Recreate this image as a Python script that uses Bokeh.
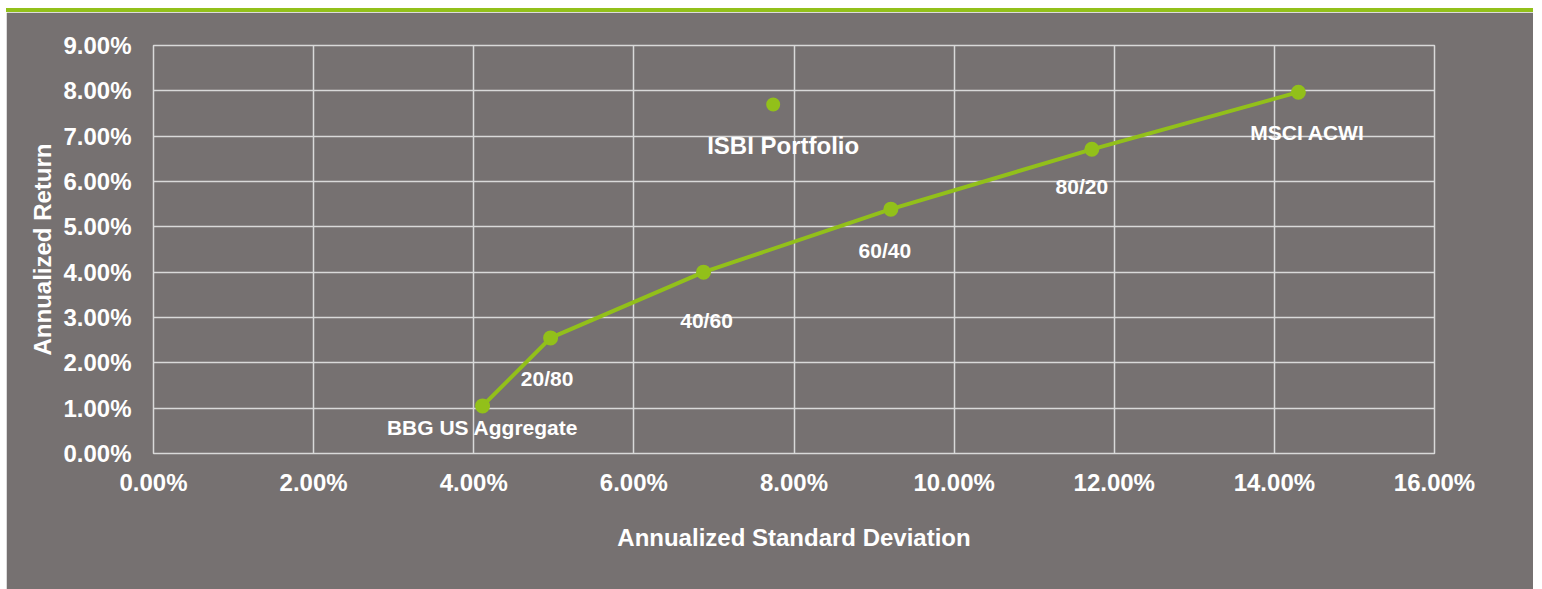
from bokeh.plotting import figure
from bokeh.models import Div, FixedTicker, PrintfTickFormatter, ColumnDataSource, Range1d
from bokeh.layouts import column
from bokeh.core.properties import value
from bokeh.embed import file_html
from bokeh.resources import INLINE

# ---- data ----
names = ["BBG US Aggregate", "20/80", "40/60", "60/40", "80/20", "MSCI ACWI"]
std_dev = [4.11, 4.96, 6.87, 9.21, 11.72, 14.30]
ann_return = [1.05, 2.55, 4.00, 5.39, 6.71, 7.97]
isbi_name = ["ISBI Portfolio"]
isbi_std = [7.74]
isbi_return = [7.70]
x_ticks = [0, 2, 4, 6, 8, 10, 12, 14, 16]
y_ticks = [0, 1, 2, 3, 4, 5, 6, 7, 8, 9]

# ---- styles ----
GREEN = "#92c01a"
BG = "#767171"
GRID = "#d9d9d9"
FONT = "Liberation Sans"
label_dx = [0, -3.5, 3, -6, -10, 9]
label_dy = [22, 41, 48, 41, 37, 40]

stripe = Div(width=1527, height=4, margin=0, styles={"background-color": GREEN})

p = figure(width=1527, height=577, output_backend="svg", toolbar_location=None,
           x_range=Range1d(0, 16), y_range=Range1d(0, 9),
           min_border_left=147, min_border_right=99, min_border_top=33, min_border_bottom=136,
           background_fill_color=BG, border_fill_color=BG, outline_line_color=GRID,
           outline_line_width=1.5, margin=0)

p.xgrid.ticker = FixedTicker(ticks=x_ticks)
p.ygrid.ticker = FixedTicker(ticks=y_ticks)
for g in (p.xgrid, p.ygrid):
    g.grid_line_color = GRID
    g.grid_line_width = 1.5

p.xaxis.ticker = FixedTicker(ticks=x_ticks)
p.yaxis.ticker = FixedTicker(ticks=y_ticks)
for ax in (p.xaxis, p.yaxis):
    ax.formatter = PrintfTickFormatter(format="%.2f%%")
    ax.axis_line_color = None
    ax.major_tick_line_color = None
    ax.minor_tick_line_color = None
    ax.major_label_text_font = FONT
    ax.major_label_text_font_style = "bold"
    ax.major_label_text_font_size = "24px"
    ax.major_label_text_color = "white"
    ax.axis_label_text_font = FONT
    ax.axis_label_text_font_style = "bold"
    ax.axis_label_text_font_size = "24px"
    ax.axis_label_text_color = "white"

p.xaxis.axis_label = "Annualized Standard Deviation"
p.yaxis.axis_label = "Annualized Return"
p.xaxis.major_label_standoff = 9
p.xaxis.axis_label_standoff = 25
p.yaxis.major_label_standoff = 16
p.yaxis.axis_label_standoff = 4

src = ColumnDataSource(dict(x=std_dev, y=ann_return, name=names, dx=label_dx, dy=label_dy))
p.line("x", "y", source=src, line_color=GREEN, line_width=4)
p.scatter("x", "y", source=src, size=15, fill_color=GREEN, line_color=None)
p.text("x", "y", text="name", source=src, x_offset="dx", y_offset="dy",
       text_align="center", text_baseline="middle", text_color="white",
       text_font=value(FONT), text_font_style="bold", text_font_size="21px")

isrc = ColumnDataSource(dict(x=isbi_std, y=isbi_return, name=isbi_name))
p.scatter("x", "y", source=isrc, size=14, fill_color=GREEN, line_color=None)
p.text("x", "y", text="name", source=isrc, x_offset=10, y_offset=41,
       text_align="center", text_baseline="middle", text_color="white",
       text_font=value(FONT), text_font_style="bold", text_font_size="24px")

layout = column(stripe, p, spacing=0, margin=(8, 0, 0, 6))
open("out.html", "w").write(file_html(layout, INLINE))
